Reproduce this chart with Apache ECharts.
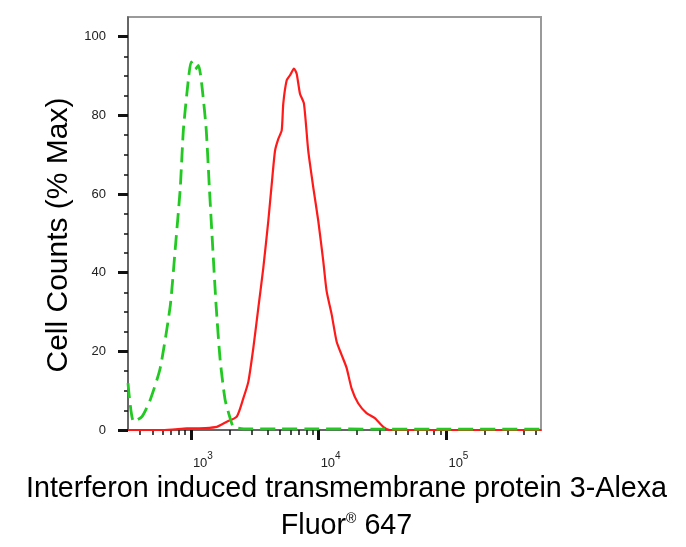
<!DOCTYPE html>
<html>
<head>
<meta charset="utf-8">
<title>Flow histogram</title>
<script src="https://cdn.jsdelivr.net/npm/echarts@6/dist/echarts.min.js"></script>
<style>
  * { margin: 0; }
  body { background: #fff; }
</style>
</head>
<body>
<div id="main" style="width:686px;height:547px;"></div>
<script>
// isotype control (green dashed) - fluorescence / % max
var ctrlX = [322, 356, 414, 481, 575, 689, 754, 825, 875, 958, 1005, 1080, 1147, 1219, 1317, 1397, 1485, 1577, 1694, 1853, 2028, 2153, 2600, 5000, 10000, 30000, 100000, 550000];
var ctrlY = [11.9, 2.1, 3.4, 7.7, 15.7, 31.5, 46, 61.3, 76.6, 89.4, 93.6, 91.7, 92.7, 87.6, 76.6, 61.3, 46, 31.5, 17.9, 7.7, 3, 0.8, 0.3, 0.3, 0.3, 0.2, 0.2, 0.2];

// stained sample (red solid)
var sampX = [322, 600, 931, 1300, 1596, 1911, 2288, 2576, 2818, 3083, 3374, 3691, 4037, 4293, 4557, 4834, 5140, 5287, 5623, 5970, 6412, 6730, 7145, 7674, 8290, 9075, 9931, 10864, 11548, 12640, 13822, 15123, 16550, 18100, 20380, 23714, 27540, 31990, 36060, 100000, 550000];
var sampY = [0, 0, 0.4, 0.5, 0.8, 2.1, 3.4, 8.1, 12.3, 20.9, 31.1, 41.3, 53.2, 62.5, 71, 74, 76.2, 83, 88.9, 90.2, 91.9, 90.6, 85.5, 83, 71, 61.7, 53.2, 43, 35.3, 29.4, 22.5, 19.1, 15.8, 10.6, 6.8, 4.3, 3, 0.8, 0, 0, 0];

// axis ticks
var xMajor = [1000, 10000, 100000];
var xMinor = [400, 500, 600, 700, 800, 900, 2000, 3000, 4000, 5000, 6000, 7000, 8000, 9000,
              20000, 30000, 40000, 50000, 60000, 70000, 80000, 90000, 200000, 300000, 400000, 500000];
var yMajor = [0, 20, 40, 60, 80, 100];
var yMinor = [5, 10, 15, 25, 30, 35, 45, 50, 55, 65, 70, 75, 85, 90, 95];

function zip(xs, ys) {
  return xs.map(function (x, i) { return [x, ys[i]]; });
}

var font = 'Liberation Sans, Arial, sans-serif';
var chart = echarts.init(document.getElementById('main'));

chart.setOption({
  animation: false,
  grid: {
    left: 128, right: 145, top: 17, bottom: 117,
    show: true, borderColor: '#9a9a9a', borderWidth: 2
  },
  xAxis: [{
    type: 'log', min: 322, max: 550000,
    name: '{t|Interferon induced transmembrane protein 3-Alexa}\n{t|Fluor}{r|®}{t| 647}',
    nameLocation: 'middle', nameGap: 39,
    nameTextStyle: {
      padding: [0, 0, 0, 24],
      rich: {
        t: { fontFamily: font, fontSize: 28.7, color: '#000', lineHeight: 37 },
        r: { fontFamily: font, fontSize: 14, color: '#000', lineHeight: 37, verticalAlign: 'top', padding: [4, 0, 0, 0] }
      }
    },
    axisLine: { lineStyle: { color: '#555', width: 1.5 } },
    splitLine: { show: false },
    axisTick: { customValues: xMajor, length: 10, lineStyle: { color: '#111', width: 3 } },
    axisLabel: {
      customValues: xMajor, margin: 21, align: 'left', padding: [0, 0, 0, 2],
      formatter: function (v) { return '{b|10}{s|' + Math.round(Math.log10(v)) + '}'; },
      rich: {
        b: { fontFamily: font, fontSize: 13, color: '#222', lineHeight: 19, verticalAlign: 'bottom' },
        s: { fontFamily: font, fontSize: 10, color: '#222', lineHeight: 19, verticalAlign: 'top' }
      }
    }
  }, {
    type: 'log', min: 322, max: 550000, position: 'bottom',
    axisLine: { show: false }, splitLine: { show: false }, axisLabel: { show: false },
    axisTick: { customValues: xMinor, length: 5, lineStyle: { color: '#111', width: 1.5 } }
  }],
  yAxis: [{
    type: 'value', min: 0, max: 105, interval: 20,
    name: 'Cell Counts (% Max)', nameLocation: 'middle', nameGap: 45,
    nameTextStyle: { fontFamily: font, fontSize: 30, color: '#000', padding: [0, 23, 0, 0] },
    axisLine: { show: true, lineStyle: { color: '#555', width: 1.5 } },
    splitLine: { show: false },
    axisTick: { customValues: yMajor, length: 10, lineStyle: { color: '#111', width: 3 } },
    axisLabel: { customValues: yMajor, margin: 22, fontFamily: font, fontSize: 13, color: '#222' }
  }, {
    type: 'value', min: 0, max: 105, position: 'left',
    axisLine: { show: false }, splitLine: { show: false }, axisLabel: { show: false },
    axisTick: { customValues: yMinor, length: 4, lineStyle: { color: '#111', width: 1.5 } }
  }],
  series: [{
    name: 'sample', type: 'line', xAxisIndex: 0, yAxisIndex: 0,
    data: zip(sampX, sampY), showSymbol: false, smooth: 0.2,
    lineStyle: { color: '#ff1a1a', width: 2.2 }
  }, {
    name: 'control', type: 'line', xAxisIndex: 0, yAxisIndex: 0,
    data: zip(ctrlX, ctrlY), showSymbol: false, smooth: 0.2,
    lineStyle: { color: '#22c922', width: 2.8, type: [15, 7] }
  }]
});
</script>
</body>
</html>
